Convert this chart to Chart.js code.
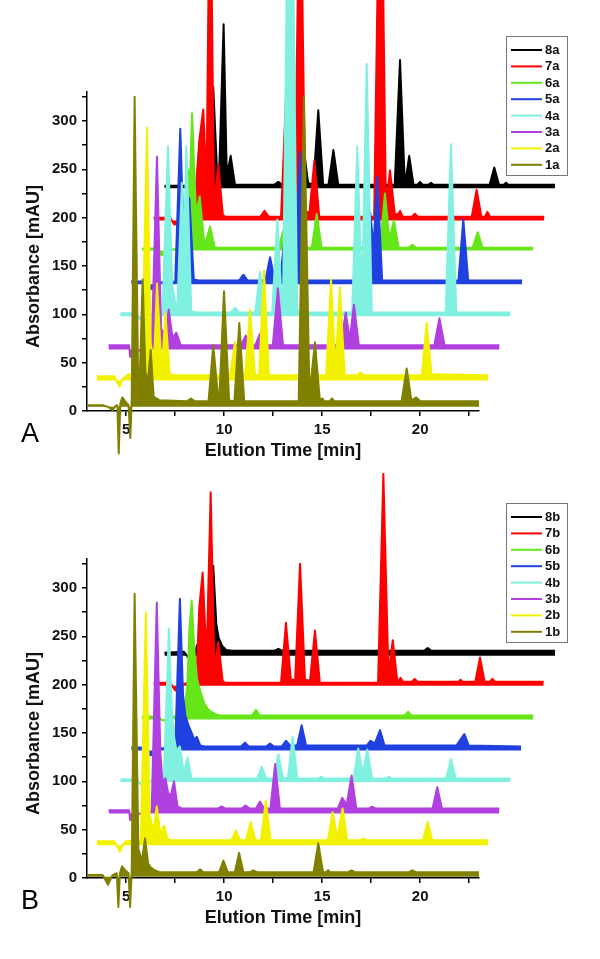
<!DOCTYPE html>
<html>
<head>
<meta charset="utf-8">
<script src="https://cdn.jsdelivr.net/npm/chart.js@4/dist/chart.umd.min.js"></script>
<style>
  html, body { margin: 0; padding: 0; background: #fff; }
  #wrap { position: relative; width: 600px; height: 959px; }
  canvas { position: absolute; left: 0; }
</style>
</head>
<body>
<div id="wrap">
  <canvas id="chartA" width="600" height="467" style="top:0px"></canvas>
  <canvas id="chartB" width="600" height="467" style="top:467px"></canvas>
</div>
<script>
// ---------- data (elution time [min], absorbance [mAU]) ----------
const labelsA = ['1a', '2a', '3a', '4a', '5a', '6a', '7a', '8a'];
const labelsB = ['1b', '2b', '3b', '4b', '5b', '6b', '7b', '8b'];
const fillA = [4.5, 31.5, 63.5, 98, 131, 166, 197, 230.5];
const fillB = [1.3, 34, 66.7, 99.3, 132, 164, 199, 230];
const xTicks = [5, 7.5, 10, 12.5, 15, 17.5, 20, 22.5];
const yTicks = [0, 25, 50, 75, 100, 125, 150, 175, 200, 225, 250, 275, 300, 325];

const A1 = [[3.0,6],[3.8,6],[4.1,4],[4.3,1],[4.45,5],[4.55,6],[4.62,-44],[4.7,8],[4.8,14],[4.95,10],[5.12,6],[5.21,-28],[5.28,10],[5.43,325],[5.6,45],[5.7,40],[5.84,136],[5.98,40],[6.1,30],[6.25,63],[6.4,15],[6.7,11],[8.1,10],[8.3,13],[8.5,10],[9.2,10],[9.44,68],[9.7,12],[9.75,12],[9.99,124],[10.25,11],[10.52,10],[10.77,91],[11.02,10],[13.8,10],[14.07,325],[14.35,16],[14.63,71],[14.88,11],[15.0,13],[15.12,10],[15.4,10],[15.5,13],[15.62,10],[19.05,10],[19.31,44],[19.55,11],[19.8,14],[20.0,10],[23.0,10]];
const A2 = [[3.5,36],[4.4,36],[4.52,30],[4.67,25],[4.8,33],[5.0,36],[5.1,38],[5.8,37],[6.06,293],[6.25,70],[6.42,50],[6.57,132],[6.78,55],[6.85,52],[7.0,101],[7.22,38],[7.5,37],[10.3,37],[10.55,71],[10.8,37],[11.07,37],[11.32,105],[11.57,37],[11.78,37],[12.03,145],[12.28,37],[15.2,37],[15.45,136],[15.67,42],[15.9,128],[16.15,37],[16.8,37],[16.95,40],[17.1,37],[20.08,37],[20.33,91],[20.58,37],[20.7,38],[23.46,37]];
const A3 = [[4.1,68],[5.15,68],[5.2,56],[5.5,56],[5.56,62],[6.3,66],[6.57,263],[6.78,85],[7.0,78],[7.17,105],[7.36,76],[7.56,81],[7.78,68],[10.85,68],[11.1,78],[11.35,68],[11.58,68],[11.83,80],[12.05,68],[12.48,68],[12.74,127],[13.0,68],[15.95,68],[16.2,102],[16.41,74],[16.62,110],[16.87,68],[20.72,68],[20.98,96],[21.24,68],[24.04,68]];
const A4 = [[4.7,101],[5.5,101],[5.7,95],[6.0,96],[6.3,100],[6.85,101],[7.13,274],[7.35,130],[7.5,112],[7.62,112],[7.84,236],[7.95,170],[8.07,274],[8.32,103],[8.6,102],[10.35,102],[10.55,107],[10.75,102],[11.58,102],[11.83,144],[12.08,102],[12.45,102],[12.71,198],[12.95,106],[13.0,106],[13.36,750],[13.72,106],[13.85,102],[16.53,102],[16.79,274],[17.03,115],[17.27,359],[17.53,102],[21.3,102],[21.57,276],[21.84,102],[24.6,102]];
const A5 = [[5.26,134],[5.9,134],[6.2,126],[6.5,127],[6.7,133],[7.5,134],[7.76,292],[7.95,165],[8.05,160],[8.22,220],[8.45,136],[8.7,135],[10.75,135],[10.98,141],[11.2,135],[12.1,135],[12.34,159],[12.58,135],[12.85,135],[13.1,184],[13.35,142],[13.6,142],[13.87,268],[14.13,136],[14.3,135],[17.2,135],[17.45,205],[17.62,170],[17.81,242],[18.06,135],[21.95,135],[22.2,198],[22.45,135],[25.2,135]];
const A6 = [[5.8,168],[6.6,168],[6.8,161],[7.1,162],[7.3,167],[7.9,168],[8.15,250],[8.25,235],[8.36,308],[8.56,205],[8.75,222],[8.98,174],[9.05,174],[9.28,191],[9.52,169],[12.78,169],[13.02,187],[13.26,169],[14.47,169],[14.72,204],[14.97,169],[17.95,169],[18.2,225],[18.43,178],[18.66,197],[18.9,169],[19.42,169],[19.6,172],[19.78,169],[22.68,169],[22.93,185],[23.18,169],[25.77,169]];
const A7 = [[6.4,200],[7.25,200],[7.45,193],[7.7,194],[7.85,199],[8.45,200],[8.73,280],[8.93,312],[9.1,235],[9.28,600],[9.48,215],[9.7,255],[9.93,203],[10.05,201],[11.85,201],[12.06,207],[12.27,201],[12.9,201],[13.15,323],[13.4,207],[13.6,207],[13.87,600],[14.14,207],[14.35,205],[14.6,259],[14.85,201],[17.65,201],[17.98,650],[18.25,212],[18.46,249],[18.7,204],[18.85,203],[18.97,207],[19.1,201],[19.58,201],[19.73,204],[19.88,201],[22.63,201],[22.88,229],[23.12,201],[23.3,201],[23.43,206],[23.56,201],[26.33,201]];
const A8 = [[6.95,233],[8.0,233],[8.3,228],[8.6,228],[8.85,233],[9.2,234],[9.44,335],[9.62,255],[9.75,250],[9.97,400],[10.12,255],[10.2,250],[10.33,264],[10.55,234],[10.65,234],[12.55,234],[12.76,237],[12.95,234],[13.8,234],[14.04,274],[14.28,236],[14.55,234],[14.8,311],[15.05,234],[15.32,234],[15.57,270],[15.82,234],[18.7,234],[18.97,363],[19.2,242],[19.28,242],[19.44,264],[19.66,234],[19.85,234],[19.99,237],[20.13,234],[20.42,234],[20.55,236],[20.68,234],[23.54,234],[23.78,252],[24.02,234],[24.26,234],[24.38,236],[24.5,234],[26.88,234]];

const B1 = [[3.0,3],[3.8,3],[4.07,-7],[4.3,3],[4.52,5],[4.6,-30],[4.68,5],[4.79,12],[4.95,8],[5.12,5],[5.2,-30],[5.28,6],[5.43,294],[5.62,30],[5.8,18],[5.96,41],[6.12,15],[6.25,11],[6.45,8],[6.7,6],[8.6,6],[8.77,9],[8.95,6],[9.74,6],[9.96,18],[10.18,6],[10.54,6],[10.76,26],[10.98,6],[11.32,6],[11.49,8],[11.66,6],[14.56,6],[14.8,36],[15.04,6],[15.2,6],[15.3,8],[15.4,6],[16.33,6],[16.5,8],[16.67,6],[19.43,6],[19.6,8],[19.77,6],[23.0,6]];
const B2 = [[3.5,38],[4.4,38],[4.55,32],[4.68,27],[4.82,35],[5.0,38],[5.75,39],[6.0,275],[6.2,65],[6.4,48],[6.56,74],[6.74,46],[6.93,54],[7.12,40],[7.35,39],[10.36,39],[10.59,49],[10.82,39],[11.11,39],[11.35,58],[11.59,39],[11.87,39],[12.12,80],[12.37,39],[15.29,39],[15.53,68],[15.77,42],[16.04,72],[16.28,39],[16.93,39],[17.1,41],[17.27,39],[20.14,39],[20.38,58],[20.62,39],[23.48,39]];
const B3 = [[4.1,70],[5.15,70],[5.2,60],[5.55,60],[5.6,66],[6.3,70],[6.56,285],[6.74,130],[6.85,100],[7.0,103],[7.14,88],[7.27,85],[7.44,100],[7.62,74],[7.85,72],[9.7,72],[9.87,74],[10.04,72],[10.9,72],[11.09,75],[11.28,72],[11.62,72],[11.83,79],[12.03,72],[12.36,72],[12.6,118],[12.84,72],[15.8,72],[16.02,83],[16.25,76],[16.5,106],[16.74,72],[17.4,72],[17.55,74],[17.7,72],[20.63,72],[20.87,94],[21.11,72],[24.04,72]];
const B4 = [[4.7,102],[5.5,102],[5.75,97],[6.1,98],[6.4,102],[6.92,103],[7.18,258],[7.32,175],[7.45,145],[7.56,132],[7.74,136],[7.92,112],[7.98,112],[8.13,125],[8.33,103],[8.6,103],[11.68,103],[11.91,115],[12.14,103],[12.52,103],[12.76,128],[13.0,104],[13.25,103],[13.49,146],[13.73,103],[14.82,103],[14.95,105],[15.08,103],[16.6,103],[16.84,134],[17.07,108],[17.3,133],[17.54,103],[18.27,103],[18.4,105],[18.53,103],[21.33,103],[21.57,123],[21.81,103],[24.6,103]];
const B5 = [[5.26,135],[5.9,135],[6.2,127],[6.55,128],[6.75,134],[7.5,136],[7.74,289],[7.9,190],[8.02,168],[8.18,158],[8.34,150],[8.48,143],[8.6,146],[8.78,137],[9.0,136],[10.86,136],[11.06,140],[11.26,136],[12.14,136],[12.34,139],[12.54,136],[12.93,136],[13.15,142],[13.37,137],[13.72,137],[13.95,158],[14.18,137],[17.27,137],[17.47,142],[17.68,139],[17.95,153],[18.18,137],[21.85,137],[22.08,144],[22.25,149],[22.48,137],[25.15,136]];
const B6 = [[5.8,167],[6.6,167],[6.85,163],[7.2,164],[7.4,167],[7.95,168],[8.12,200],[8.22,256],[8.34,287],[8.48,235],[8.62,205],[8.8,192],[9.0,180],[9.2,174],[9.5,170],[9.8,168],[11.42,168],[11.62,174],[11.82,168],[19.2,168],[19.38,172],[19.56,168],[25.77,168]];
const B7 = [[6.4,202],[7.25,202],[7.5,194],[7.75,195],[7.9,201],[8.4,202],[8.58,205],[8.73,280],[8.9,316],[9.1,225],[9.31,399],[9.5,218],[9.7,244],[9.92,204],[10.05,202],[12.9,202],[13.15,264],[13.4,205],[13.62,205],[13.87,325],[14.12,205],[14.38,204],[14.63,256],[14.88,202],[17.85,202],[18.12,418],[18.38,210],[18.6,246],[18.83,204],[18.88,204],[19.0,207],[19.12,203],[19.57,203],[19.72,206],[19.87,203],[21.95,203],[22.06,205],[22.17,203],[22.81,203],[23.05,228],[23.29,203],[23.55,203],[23.68,206],[23.81,203],[26.3,203]];
const B8 = [[6.95,233],[7.95,234],[8.25,226],[8.5,227],[8.6,240],[8.68,243],[8.8,240],[9.25,245],[9.44,323],[9.6,262],[9.72,248],[9.9,240],[10.1,236],[10.4,235],[12.55,235],[12.76,237],[12.97,235],[20.2,235],[20.38,238],[20.56,235],[26.88,235]];

// ---------- styling ----------
const colors = ['#808000', '#f2f200', '#b040e0', '#80f0e0', '#2040e0', '#66e619', '#ff0000', '#000000'];
const FONT = '"Liberation Sans", Arial, Helvetica, sans-serif';
const X_MIN = 3, X_MAX = 23, Y_MIN = 0, Y_MAX = 330;

// let the filled traces run past the axis box (as in the original figure)
const fullFill = {
  id: 'fullFill',
  beforeDatasetsDraw(chart) {
    chart.$savedArea = chart.chartArea;
    chart.chartArea = { left: 0, top: 0, right: chart.width, bottom: chart.height, width: chart.width, height: chart.height };
  },
  afterDatasetsDraw(chart) {
    if (chart.$savedArea) chart.chartArea = chart.$savedArea;
  }
};

// boxed legend inside the plot + panel letter
const boxLegend = {
  id: 'boxLegend',
  afterDraw(chart, args, opts) {
    const ctx = chart.ctx;
    const ds = chart.data.datasets;
    ctx.save();
    ctx.fillStyle = '#fff';
    ctx.fillRect(opts.x, opts.y, opts.w, opts.h);
    ctx.strokeStyle = '#777';
    ctx.lineWidth = 1;
    ctx.strokeRect(opts.x + 0.5, opts.y + 0.5, opts.w, opts.h);
    ctx.font = 'bold 13px ' + FONT;
    ctx.textBaseline = 'middle';
    ctx.textAlign = 'left';
    for (let i = 0; i < ds.length; i++) {
      const d = ds[ds.length - 1 - i];
      const y = opts.y + 14 + i * 16.4;
      ctx.strokeStyle = d.borderColor;
      ctx.lineWidth = 2;
      ctx.beginPath();
      ctx.moveTo(opts.x + 5, y);
      ctx.lineTo(opts.x + 36, y);
      ctx.stroke();
      ctx.fillStyle = '#111';
      ctx.fillText(d.label, opts.x + 39, y + 0.5);
    }
    ctx.font = '27px ' + FONT;
    ctx.textBaseline = 'alphabetic';
    ctx.fillStyle = '#000';
    ctx.fillText(opts.letter, 21, 442);
    ctx.restore();
  }
};

function buildPanel(id, series, labels, fills, letter) {
  return new Chart(document.getElementById(id), {
    type: 'line',
    data: {
      datasets: series.map((d, i) => ({
        label: labels[i],
        data: d,
        borderColor: colors[i],
        backgroundColor: colors[i],
        borderWidth: 2,
        borderJoinStyle: 'round',
        pointRadius: 0,
        tension: 0,
        fill: { value: fills[i] },
        clip: false
      }))
    },
    options: {
      responsive: false,
      animation: false,
      events: [],
      layout: { padding: { left: 0, top: 92, right: 121, bottom: 0 } },
      plugins: {
        legend: { display: false },
        tooltip: { enabled: false },
        boxLegend: { letter: letter, x: 506, y: 36, w: 61, h: 139 }
      },
      scales: {
        x: {
          type: 'linear',
          bounds: 'data',
          afterDataLimits: s => { s.min = X_MIN; s.max = X_MAX; },
          afterBuildTicks: s => { s.ticks = xTicks.map(v => ({ value: v })); },
          afterFit: s => { s.height = 56; },
          grid: { drawOnChartArea: false, tickLength: 5, color: '#000', lineWidth: 1.5 },
          border: { color: '#000', width: 1.5 },
          ticks: {
            autoSkip: false, maxRotation: 0, padding: 5, color: '#111',
            font: { family: FONT, size: 15, weight: 'bold' },
            callback: v => (v % 5 === 0 ? String(v) : '')
          },
          title: {
            display: true, text: 'Elution Time [min]', color: '#111',
            font: { family: FONT, size: 18, weight: 'bold' },
            padding: { top: 0, bottom: 5 }
          }
        },
        y: {
          type: 'linear',
          min: Y_MIN, max: Y_MAX,
          afterBuildTicks: s => { s.ticks = yTicks.map(v => ({ value: v })); },
          afterFit: s => { s.width = 87; },
          grid: { drawOnChartArea: false, tickLength: 5, color: '#000', lineWidth: 1.5 },
          border: { color: '#000', width: 1.5 },
          ticks: {
            autoSkip: false, padding: 5, color: '#111',
            font: { family: FONT, size: 15, weight: 'bold' },
            callback: v => (v % 50 === 0 && v <= 300 ? String(v) : '')
          },
          title: {
            display: true, text: 'Absorbance [mAU]\u00a0\u00a0\u00a0\u00a0\u00a0\u00a0', color: '#111',
            font: { family: FONT, size: 18, weight: 'bold' },
            padding: { top: 23, bottom: 0 }
          }
        }
      }
    },
    plugins: [fullFill, boxLegend]
  });
}

buildPanel('chartA', [A1, A2, A3, A4, A5, A6, A7, A8], labelsA, fillA, 'A');
buildPanel('chartB', [B1, B2, B3, B4, B5, B6, B7, B8], labelsB, fillB, 'B');
</script>
</body>
</html>
